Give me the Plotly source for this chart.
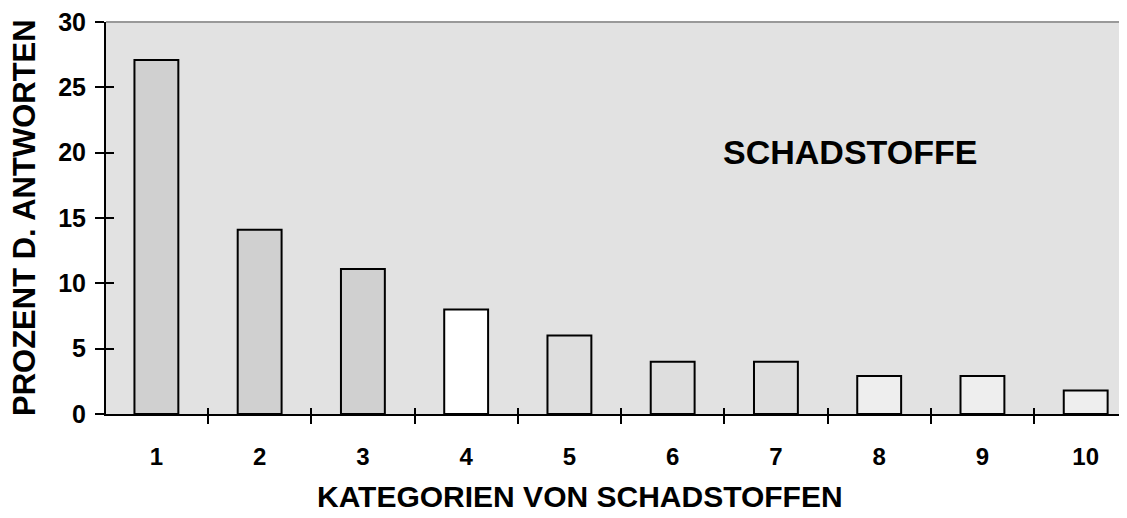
import plotly.graph_objects as go

categories = ["1", "2", "3", "4", "5", "6", "7", "8", "9", "10"]
values = [27.1, 14.1, 11.1, 8.0, 6.0, 4.0, 4.0, 2.9, 2.9, 1.8]
bar_colors = ["#d0d0d0", "#d0d0d0", "#d0d0d0", "#ffffff", "#dedede",
              "#dedede", "#dedede", "#eeeeee", "#eeeeee", "#eeeeee"]
y_ticks = [0, 5, 10, 15, 20, 25, 30]

xpos = list(range(1, len(categories) + 1))
bounds = [i + 0.5 for i in xpos]
FONT = "Liberation Sans, Arial, sans-serif"
xr = [0.512, 10.40]

# page body has an 8px margin; figure is laid out so the plot lands where the reference has it
W, H = 1119, 510
L, T, B = 98, 14, 104
PW = W - L
PH = H - T - B

fig = go.Figure()
fig.add_trace(go.Bar(x=xpos, y=values, width=0.425,
                     marker=dict(color=bar_colors, line=dict(color="black", width=2)),
                     showlegend=False, hoverinfo="skip"))
fig.add_trace(go.Scatter(x=[None], y=[None], xaxis="x2", yaxis="y2", showlegend=False))
fig.add_trace(go.Scatter(x=[None], y=[None], xaxis="x3", yaxis="y", showlegend=False))

fig.update_layout(
    width=W, height=H,
    margin=dict(l=L, r=0, t=T, b=B),
    paper_bgcolor="white", plot_bgcolor="#e2e2e2",
    font=dict(family=FONT, color="black"),
    xaxis=dict(range=xr, tickvals=xpos, ticktext=categories, ticks="", automargin=False,
               showgrid=False, zeroline=False, showline=True, linecolor="black", linewidth=2,
               ticklabelstandoff=20, ticklabeloverflow="allow",
               tickfont=dict(size=24, family=FONT, weight="bold")),
    xaxis2=dict(range=xr, overlaying="x", anchor="y2", side="bottom", tickvals=bounds,
                ticks="outside", ticklen=9, tickwidth=2, tickcolor="black", automargin=False,
                showticklabels=False, showgrid=False, zeroline=False, showline=False),
    xaxis3=dict(range=xr, overlaying="x", anchor="y", side="bottom", tickvals=bounds,
                ticks="inside", ticklen=6, tickwidth=2, tickcolor="black", automargin=False,
                showticklabels=False, showgrid=False, zeroline=False, showline=False),
    yaxis=dict(range=[0, 30], tickvals=y_ticks, ticks="outside", ticklen=9, tickwidth=2,
               tickcolor="black", showgrid=False, zeroline=False, showline=True,
               linecolor="black", linewidth=2, automargin=False, ticklabelstandoff=4,
               ticklabeloverflow="allow",
               tickfont=dict(size=25, family=FONT, weight="bold")),
    yaxis2=dict(range=[0, 30], overlaying="y", anchor="x2", side="left", tickvals=y_ticks,
                ticks="inside", ticklen=8, tickwidth=2, tickcolor="black", automargin=False,
                showticklabels=False, showgrid=False, zeroline=False, showline=False),
    shapes=[dict(type="line", xref="paper", yref="paper", x0=0, x1=1, y0=1, y1=1,
                 line=dict(color="#999999", width=2))],
    annotations=[
        dict(text="<b>SCHADSTOFFE</b>", xref="paper", yref="paper",
             x=(850 - 106) / PW, y=(414 - 152) / PH, xanchor="center", yanchor="middle",
             showarrow=False, font=dict(size=34, family=FONT)),
        dict(text="<b>KATEGORIEN VON SCHADSTOFFEN</b>", xref="paper", yref="paper",
             x=(580 - 106) / PW, y=-(496 - 414) / PH, xanchor="center", yanchor="middle",
             showarrow=False, font=dict(size=30, family=FONT)),
        dict(text="<b>PROZENT D. ANTWORTEN</b>", xref="paper", yref="paper",
             x=-(106 - 24) / PW, y=(414 - 218) / PH, xanchor="center", yanchor="middle",
             textangle=-90, showarrow=False, font=dict(size=31, family=FONT)),
    ],
)

fig.write_html("out.html")
